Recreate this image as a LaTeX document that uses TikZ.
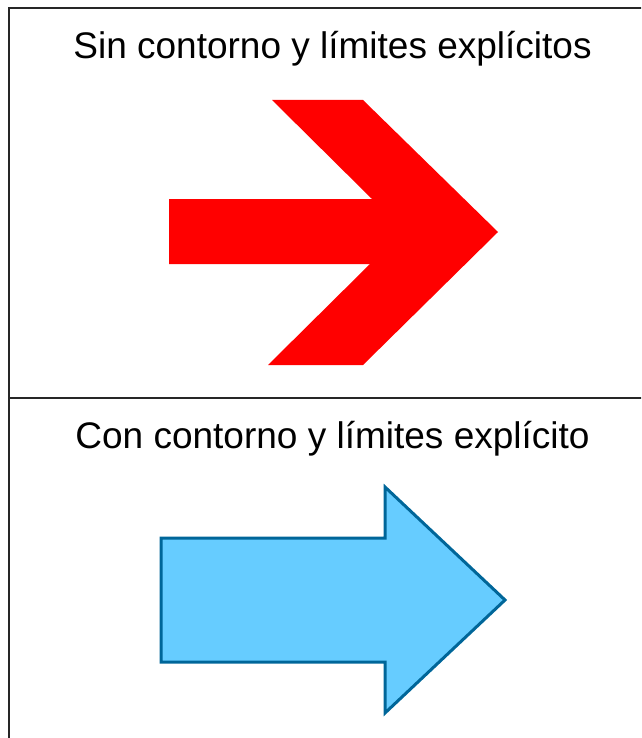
\documentclass[tikz,border=0pt]{standalone}
\usepackage{fontspec}
\setmainfont{Liberation Sans}
\usepackage{tikz}

\definecolor{arrowred}{HTML}{FF0000}
\definecolor{arrowfill}{HTML}{66CCFF}
\definecolor{arrowline}{HTML}{006699}

\begin{document}
\begin{tikzpicture}[%
	x=1pt, y=-1pt,
	every node/.style = {anchor=base, inner sep=0pt, font=\fontsize{37}{44}\selectfont},
	panel/.style = {draw=black!85, line width=1.6pt},
	plainarrow/.style = {fill=arrowred, draw=none},
	outlinedarrow/.style = {fill=arrowfill, draw=arrowline, line width=3pt, line join=miter}
	]
  \clip (0,0) rectangle (641,738);
  % panels
  \draw [panel] (9,8) rectangle (680,780);
  \draw [panel] (9,398) -- (680,398);
  % titles
  \node (top title) at (332.5,58.5) {Sin contorno y límites explícitos};
  \node (bottom title) at (332.5,448.5) {Con contorno y límites explícito};
  % red arrow, no outline
  \fill [plainarrow] (169,199) -- (372,199) -- (272,100) -- (363,100) -- (498,232)
	-- (363,365) -- (268,365) -- (370,264) -- (169,264) -- cycle;
  % blue arrow, with outline
  \filldraw [outlinedarrow] (161,538) -- (385,538) -- (385,487) -- (505,600)
	-- (385,713) -- (385,662) -- (161,662) -- cycle;
\end{tikzpicture}
\end{document}
